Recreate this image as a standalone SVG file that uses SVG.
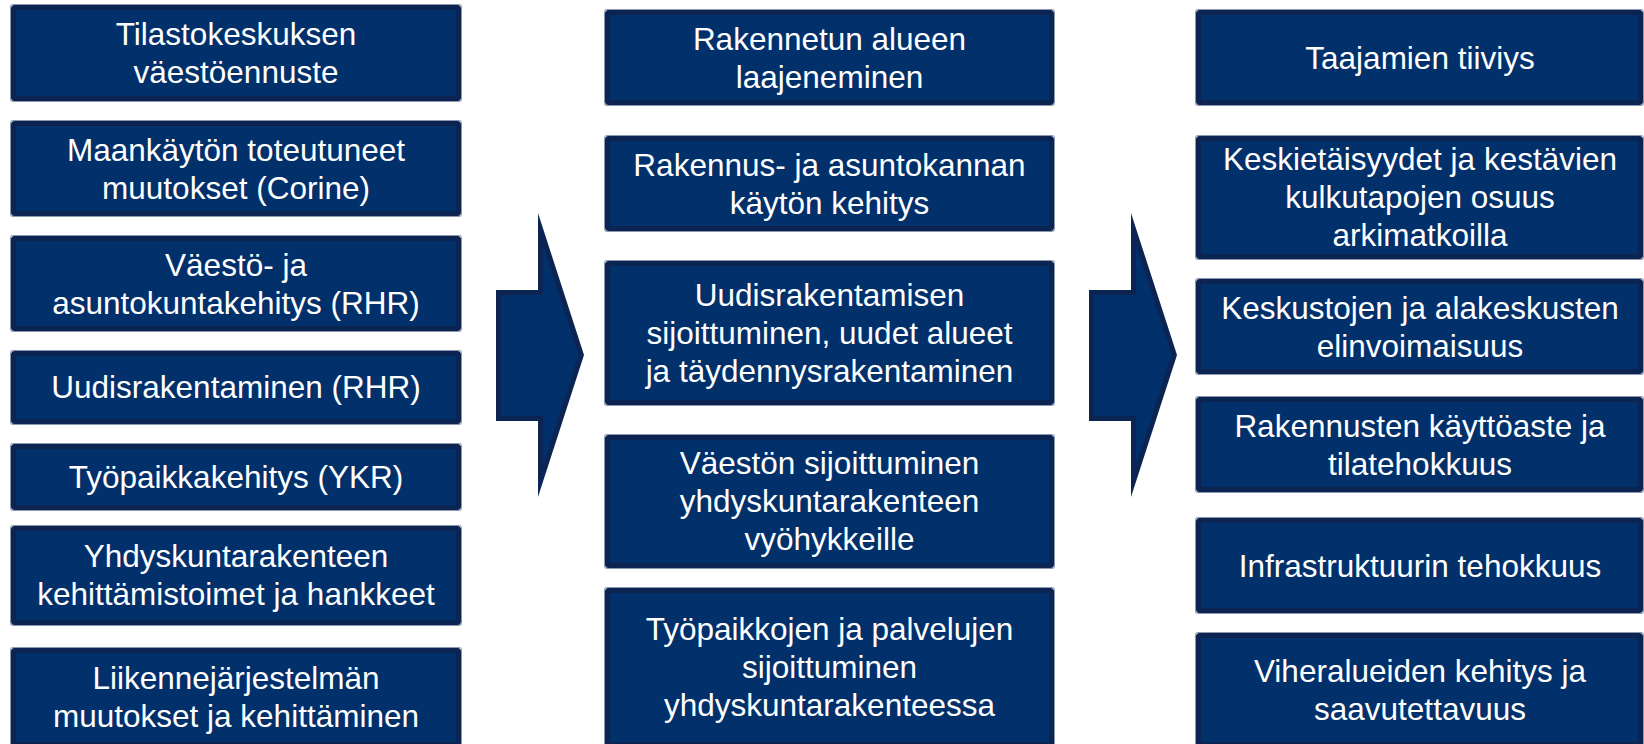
<svg xmlns="http://www.w3.org/2000/svg" width="1644" height="744" viewBox="0 0 1644 744">
<style>
.box{fill:#02306b;stroke:#0b2452;stroke-width:5}
.edge{fill:none;stroke:#8a97ad;stroke-width:1}
.t{font-family:"Liberation Sans",Arial,sans-serif;font-size:31.5px;fill:#ffffff;text-anchor:middle}
.aout{fill:#0b2452}
.ain{fill:#02306b}
</style>
<rect width="1644" height="744" fill="#ffffff"/>
<g id="connectors">
<g id="arrow1"><polygon class="aout" points="496,290 538,290 538,213 584,355 538,497 538,421 496,421"/><polygon class="ain" points="501,295 543,295 543,244.8 578.7,355 543,465.2 543,416 501,416"/></g>
<g id="arrow2"><polygon class="aout" points="1089,290 1131,290 1131,213 1177,355 1131,497 1131,421 1089,421"/><polygon class="ain" points="1094,295 1136,295 1136,244.8 1171.7,355 1136,465.2 1136,416 1094,416"/></g>
</g>
<g id="l1"><rect class="edge" x="10.5" y="4.5" width="451" height="97" rx="2"/><rect class="box" x="13.5" y="7.5" width="445" height="91" rx="1"/><text class="t" x="236" y="45">Tilastokeskuksen</text><text class="t" x="236" y="83">väestöennuste</text></g>
<g id="l2"><rect class="edge" x="10.5" y="120.5" width="451" height="96" rx="2"/><rect class="box" x="13.5" y="123.5" width="445" height="90" rx="1"/><text class="t" x="236" y="161">Maankäytön toteutuneet</text><text class="t" x="236" y="199">muutokset (Corine)</text></g>
<g id="l3"><rect class="edge" x="10.5" y="235.5" width="451" height="96" rx="2"/><rect class="box" x="13.5" y="238.5" width="445" height="90" rx="1"/><text class="t" x="236" y="276">Väestö- ja</text><text class="t" x="236" y="314">asuntokuntakehitys (RHR)</text></g>
<g id="l4"><rect class="edge" x="10.5" y="350.5" width="451" height="74" rx="2"/><rect class="box" x="13.5" y="353.5" width="445" height="68" rx="1"/><text class="t" x="236" y="398">Uudisrakentaminen (RHR)</text></g>
<g id="l5"><rect class="edge" x="10.5" y="443.5" width="451" height="67" rx="2"/><rect class="box" x="13.5" y="446.5" width="445" height="61" rx="1"/><text class="t" x="236" y="488">Työpaikkakehitys (YKR)</text></g>
<g id="l6"><rect class="edge" x="10.5" y="525.5" width="451" height="100" rx="2"/><rect class="box" x="13.5" y="528.5" width="445" height="94" rx="1"/><text class="t" x="236" y="567">Yhdyskuntarakenteen</text><text class="t" x="236" y="605">kehittämistoimet ja hankkeet</text></g>
<g id="l7"><rect class="edge" x="10.5" y="647.5" width="451" height="100" rx="2"/><rect class="box" x="13.5" y="650.5" width="445" height="94" rx="1"/><text class="t" x="236" y="689">Liikennejärjestelmän</text><text class="t" x="236" y="727">muutokset ja kehittäminen</text></g>
<g id="m1"><rect class="edge" x="604.5" y="9.5" width="450" height="96" rx="2"/><rect class="box" x="607.5" y="12.5" width="444" height="90" rx="1"/><text class="t" x="829.5" y="50">Rakennetun alueen</text><text class="t" x="829.5" y="88">laajeneminen</text></g>
<g id="m2"><rect class="edge" x="604.5" y="135.5" width="450" height="96" rx="2"/><rect class="box" x="607.5" y="138.5" width="444" height="90" rx="1"/><text class="t" x="829.5" y="176">Rakennus- ja asuntokannan</text><text class="t" x="829.5" y="214">käytön kehitys</text></g>
<g id="m3"><rect class="edge" x="604.5" y="260.5" width="450" height="145" rx="2"/><rect class="box" x="607.5" y="263.5" width="444" height="139" rx="1"/><text class="t" x="829.5" y="306">Uudisrakentamisen</text><text class="t" x="829.5" y="344">sijoittuminen, uudet alueet</text><text class="t" x="829.5" y="382">ja täydennysrakentaminen</text></g>
<g id="m4"><rect class="edge" x="604.5" y="434.5" width="450" height="134" rx="2"/><rect class="box" x="607.5" y="437.5" width="444" height="128" rx="1"/><text class="t" x="829.5" y="474">Väestön sijoittuminen</text><text class="t" x="829.5" y="512">yhdyskuntarakenteen</text><text class="t" x="829.5" y="550">vyöhykkeille</text></g>
<g id="m5"><rect class="edge" x="604.5" y="587.5" width="450" height="160" rx="2"/><rect class="box" x="607.5" y="590.5" width="444" height="154" rx="1"/><text class="t" x="829.5" y="640">Työpaikkojen ja palvelujen</text><text class="t" x="829.5" y="678">sijoittuminen</text><text class="t" x="829.5" y="716">yhdyskuntarakenteessa</text></g>
<g id="r1"><rect class="edge" x="1195.5" y="9.5" width="448" height="96" rx="2"/><rect class="box" x="1198.5" y="12.5" width="442" height="90" rx="1"/><text class="t" x="1420" y="69">Taajamien tiiviys</text></g>
<g id="r2"><rect class="edge" x="1195.5" y="135.5" width="448" height="124" rx="2"/><rect class="box" x="1198.5" y="138.5" width="442" height="118" rx="1"/><text class="t" x="1420" y="170">Keskietäisyydet ja kestävien</text><text class="t" x="1420" y="208">kulkutapojen osuus</text><text class="t" x="1420" y="246">arkimatkoilla</text></g>
<g id="r3"><rect class="edge" x="1195.5" y="278.5" width="448" height="96" rx="2"/><rect class="box" x="1198.5" y="281.5" width="442" height="90" rx="1"/><text class="t" x="1420" y="319">Keskustojen ja alakeskusten</text><text class="t" x="1420" y="357">elinvoimaisuus</text></g>
<g id="r4"><rect class="edge" x="1195.5" y="396.5" width="448" height="96" rx="2"/><rect class="box" x="1198.5" y="399.5" width="442" height="90" rx="1"/><text class="t" x="1420" y="437">Rakennusten käyttöaste ja</text><text class="t" x="1420" y="475">tilatehokkuus</text></g>
<g id="r5"><rect class="edge" x="1195.5" y="517.5" width="448" height="96" rx="2"/><rect class="box" x="1198.5" y="520.5" width="442" height="90" rx="1"/><text class="t" x="1420" y="577">Infrastruktuurin tehokkuus</text></g>
<g id="r6"><rect class="edge" x="1195.5" y="632.5" width="448" height="115" rx="2"/><rect class="box" x="1198.5" y="635.5" width="442" height="109" rx="1"/><text class="t" x="1420" y="682">Viheralueiden kehitys ja</text><text class="t" x="1420" y="720">saavutettavuus</text></g>
</svg>
